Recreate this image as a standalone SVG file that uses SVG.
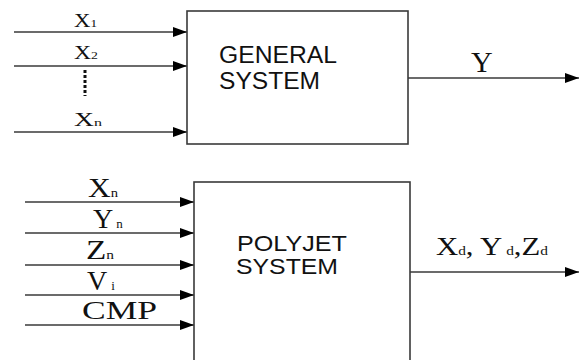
<svg xmlns="http://www.w3.org/2000/svg" width="579" height="360" viewBox="0 0 579 360">
<defs>
<style>
.box{fill:#fff;stroke:#3a3a3a;stroke-width:1.6}
.ln{stroke:#3a3a3a;stroke-width:1.6;fill:none;marker-end:url(#ah)}
.sans{font-family:"Liberation Sans",Arial,sans-serif;fill:#111}
.serif{font-family:"Liberation Serif","Times New Roman",serif;fill:#111}
</style>
<marker id="ah" markerUnits="userSpaceOnUse" markerWidth="14" markerHeight="10" refX="14" refY="5" orient="auto">
<path d="M0,0 L14,5 L0,10 z" fill="#000"/>
</marker>
</defs>
<rect width="579" height="360" fill="#fff"/>
<g id="connectors">
<line class="ln" x1="14" y1="32" x2="187" y2="32"/>
<line class="ln" x1="14" y1="66" x2="187" y2="66"/>
<line class="ln" x1="14" y1="132" x2="187" y2="132"/>
<line class="ln" x1="408" y1="78" x2="579" y2="78"/>
<line x1="85" y1="70" x2="85" y2="96" stroke="#111" stroke-width="3" stroke-dasharray="3,2"/>
<line class="ln" x1="25" y1="202" x2="194" y2="202"/>
<line class="ln" x1="25" y1="233" x2="194" y2="233"/>
<line class="ln" x1="25" y1="265" x2="194" y2="265"/>
<line class="ln" x1="25" y1="295" x2="194" y2="295"/>
<line class="ln" x1="25" y1="325" x2="194" y2="325"/>
<line class="ln" x1="410" y1="272" x2="579" y2="272"/>
</g>
<g id="general-system">
<rect class="box" x="187" y="11" width="221" height="133"/>
<text class="sans" x="219" y="63" font-size="23" textLength="118" lengthAdjust="spacingAndGlyphs">GENERAL</text>
<text class="sans" x="219" y="89" font-size="23" textLength="101" lengthAdjust="spacingAndGlyphs">SYSTEM</text>
</g>
<g id="polyjet-system">
<rect class="box" x="194" y="182" width="216" height="200"/>
<text class="sans" x="237" y="251" font-size="22" textLength="110" lengthAdjust="spacingAndGlyphs">POLYJET</text>
<text class="sans" x="236" y="274" font-size="22" textLength="102" lengthAdjust="spacingAndGlyphs">SYSTEM</text>
</g>
<g id="labels-top">
<text class="serif" x="74" y="27" font-size="19" textLength="23" lengthAdjust="spacingAndGlyphs">X<tspan font-size="11">1</tspan></text>
<text class="serif" x="74" y="59" font-size="19" textLength="24" lengthAdjust="spacingAndGlyphs">X<tspan font-size="11">2</tspan></text>
<text class="serif" x="74" y="126" font-size="19" textLength="28" lengthAdjust="spacingAndGlyphs">X<tspan font-size="11">n</tspan></text>
<text class="serif" x="471" y="72" font-size="30">Y</text>
</g>
<g id="labels-bottom">
<text class="serif" x="88" y="197" font-size="28" textLength="30" lengthAdjust="spacingAndGlyphs">X<tspan font-size="13">n</tspan></text>
<text class="serif" x="93" y="228" font-size="28">Y<tspan font-size="13" dx="3">n</tspan></text>
<text class="serif" x="86" y="259" font-size="28" textLength="28" lengthAdjust="spacingAndGlyphs">Z<tspan font-size="13">n</tspan></text>
<text class="serif" x="87" y="290" font-size="28">V<tspan font-size="13" dx="4">i</tspan></text>
<text class="serif" x="82" y="319" font-size="26" textLength="75" lengthAdjust="spacingAndGlyphs">CMP</text>
<text class="serif" x="436" y="255" font-size="26" textLength="112" lengthAdjust="spacingAndGlyphs">X<tspan font-size="13">d</tspan>, Y<tspan font-size="13"> d</tspan>,Z<tspan font-size="13">d</tspan></text>
</g>
</svg>
